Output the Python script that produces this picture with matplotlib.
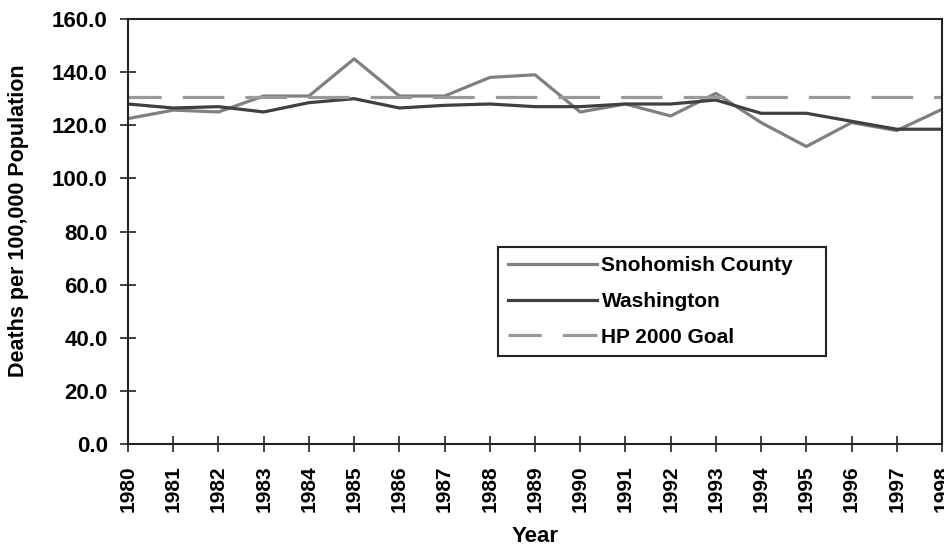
import matplotlib
matplotlib.use("Agg")
import matplotlib.pyplot as plt

plt.rcParams['font.family'] = ['Liberation Sans', 'DejaVu Sans']
plt.rcParams['font.weight'] = 'bold'

# data
years = list(range(1980, 1999))
snohomish = [122.5, 125.7, 125.0, 131.0, 131.0, 145.0, 131.0, 131.0, 138.0, 139.0,
             125.0, 128.0, 123.5, 132.0, 121.0, 112.0, 121.0, 118.0, 126.0]
washington = [128.0, 126.5, 127.0, 125.0, 128.5, 130.0, 126.5, 127.5, 128.0, 127.0,
              127.0, 128.0, 128.0, 129.5, 124.5, 124.5, 121.5, 118.5, 118.5]
goal = 130.6

fig = plt.figure(figsize=(9.44, 5.5), dpi=100)
ax = fig.add_axes([128/944, 1 - 444/550, 814/944, 425/550])

ax.plot(years, snohomish, color='#808080', lw=2.3, label='Snohomish County')
ax.plot(years, washington, color='#404040', lw=2.3, label='Washington')
ax.axhline(goal, color='#999999', lw=2.3, ls=(2.6, (13, 6.6)), label='HP 2000 Goal')

ax.set_xlim(1980, 1998)
ax.set_ylim(0, 160)
ax.set_xticks(years)
ax.set_xticklabels([str(y) for y in years], rotation=90, fontsize=15, fontweight='bold')
ax.set_yticks(range(0, 161, 20))
ax.set_yticklabels([f"{v:.1f}" for v in range(0, 161, 20)], fontsize=16, fontweight='bold')
ax.tick_params(direction='inout', length=11, width=1.2, color='#222222')
ax.tick_params(axis='y', pad=9)
ax.tick_params(axis='x', pad=10)
for s in ax.spines.values():
    s.set_linewidth(1.5)
    s.set_color('#222222')

ax.set_xlabel('Year', fontsize=16, fontweight='bold', labelpad=10)
ax.set_ylabel('Deaths per 100,000 Population', fontsize=15.5, fontweight='bold')
ax.yaxis.set_label_coords(-0.122, 0.525)

leg = ax.legend(loc='lower left', bbox_to_anchor=(0.455, 0.207, 0.403, 0.256), mode='expand',
                borderaxespad=0, fancybox=False, framealpha=1, edgecolor='#222222', fontsize=15,
                handlelength=4.3, handletextpad=0.2, labelspacing=0.8, borderpad=0.45)
leg.get_frame().set_linewidth(1.5)

fig.savefig('out.png', dpi=100)
